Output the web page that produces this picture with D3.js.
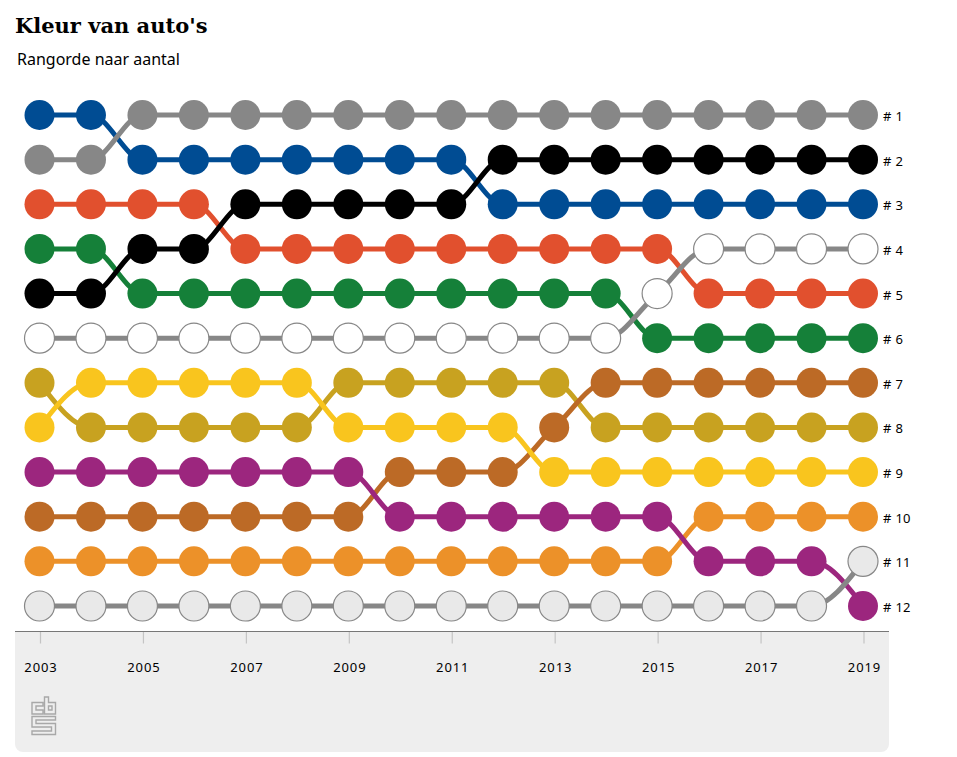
<!DOCTYPE html>
<html>
<head>
<meta charset="utf-8">
<script src="https://cdn.jsdelivr.net/npm/d3@7"></script>
<style>
  body { margin: 0; background: #fff; }
  text { fill: #000; }
</style>
</head>
<body>
<div id="chart"></div>
<script>
// Data: rank per year, one list per colour
const years = d3.range(2003, 2020);
const tickYears = [2003, 2005, 2007, 2009, 2011, 2013, 2015, 2017, 2019];
const ranks = d3.range(1, 13);

const blauw      = [1, 1, 2, 2, 2, 2, 2, 2, 2, 3, 3, 3, 3, 3, 3, 3, 3];
const groen      = [4, 4, 5, 5, 5, 5, 5, 5, 5, 5, 5, 5, 6, 6, 6, 6, 6];
const rood       = [3, 3, 3, 3, 4, 4, 4, 4, 4, 4, 4, 4, 4, 5, 5, 5, 5];
const okergeel   = [7, 8, 8, 8, 8, 8, 7, 7, 7, 7, 7, 8, 8, 8, 8, 8, 8];
const bruin      = [10, 10, 10, 10, 10, 10, 10, 9, 9, 9, 8, 7, 7, 7, 7, 7, 7];
const oranje     = [11, 11, 11, 11, 11, 11, 11, 11, 11, 11, 11, 11, 11, 10, 10, 10, 10];
const paars      = [9, 9, 9, 9, 9, 9, 9, 10, 10, 10, 10, 10, 10, 11, 11, 11, 12];
const lichtgrijs = [12, 12, 12, 12, 12, 12, 12, 12, 12, 12, 12, 12, 12, 12, 12, 12, 11];
const geel       = [8, 7, 7, 7, 7, 7, 8, 8, 8, 8, 9, 9, 9, 9, 9, 9, 9];
const wit        = [6, 6, 6, 6, 6, 6, 6, 6, 6, 6, 6, 6, 5, 4, 4, 4, 4];
const zwart      = [5, 5, 4, 4, 3, 3, 3, 3, 3, 2, 2, 2, 2, 2, 2, 2, 2];
const grijs      = [2, 2, 1, 1, 1, 1, 1, 1, 1, 1, 1, 1, 1, 1, 1, 1, 1];

// Order matters: later lines cross over earlier ones
const colourNames = ['blauw', 'groen', 'rood', 'okergeel', 'bruin', 'oranje', 'paars', 'lichtgrijs', 'geel', 'wit', 'zwart', 'grijs'];
const seriesValues = [blauw, groen, rood, okergeel, bruin, oranje, paars, lichtgrijs, geel, wit, zwart, grijs];

// Fill of the dots, and colour of the connecting lines
const fillColours = ['#004c93', '#158039', '#e1502e', '#c8a220', '#bc6a26', '#ec9129', '#9c267e', '#e9e9e9', '#f9c51e', '#ffffff', '#000000', '#878787'];
const lineColours = ['#004c93', '#158039', '#e1502e', '#c8a220', '#bc6a26', '#ec9129', '#9c267e', '#878787', '#f9c51e', '#878787', '#000000', '#878787'];

const width = 957, height = 757;

const svg = d3.select('#chart')
    .append('svg')
    .attr('width', width)
    .attr('height', height)
    .style('display', 'block');

// Scales
const xScale = d3.scaleLinear().domain([2003, 2019]).range([39.5, 863]);
const yScale = d3.scaleLinear().domain([1, 12]).range([115, 606]);

// Title and subtitle
svg.append('text')
    .attr('x', 15).attr('y', 33)
    .attr('font-family', 'DejaVu Serif')
    .attr('font-weight', 'bold')
    .attr('font-size', 21)
    .text("Kleur van auto's");
svg.append('text')
    .attr('x', 17).attr('y', 65)
    .attr('font-family', 'Noto Sans')
    .attr('font-size', 16)
    .text('Rangorde naar aantal');

// Grey panel below the axis, rounded at the bottom only
svg.append('path')
    .attr('fill', '#eeeeee')
    .attr('d', 'M15,632H889V744a8,8 0 0 1 -8,8H23a8,8 0 0 1 -8,-8Z');

// X axis
const xAxis = svg.append('g')
    .attr('transform', 'translate(0, 631.5)')
    .call(d3.axisBottom(xScale)
        .tickValues(tickYears)
        .tickFormat(d3.format('d'))
        .tickSize(12)
        .tickPadding(19));
xAxis.select('.domain').remove();
xAxis.selectAll('line').attr('stroke', '#c4c4c4').attr('stroke-width', 1.2).attr('x1', 0.5).attr('x2', 0.5);
xAxis.selectAll('text')
    .attr('font-family', 'Noto Sans')
    .attr('font-size', 13)
    .attr('letter-spacing', 0.9)
    .attr('dx', 1)
    .attr('fill', '#000');
svg.append('line')
    .attr('x1', 15).attr('x2', 889)
    .attr('y1', 631.5).attr('y2', 631.5)
    .attr('stroke', '#777777')
    .attr('stroke-width', 1.2);

// Rank labels at the right
svg.selectAll('.rank-label')
    .data(ranks)
    .join('text')
    .attr('class', 'rank-label')
    .attr('x', 883)
    .attr('y', d => yScale(d) + 6)
    .attr('font-family', 'Noto Sans')
    .attr('font-size', 13)
    .attr('letter-spacing', 0.3)
    .text(d => `# ${d}`);

// One line per colour
const line = d3.line()
    .x((d, i) => xScale(years[i]))
    .y(d => yScale(d))
    .curve(d3.curveMonotoneX);

svg.selectAll('.rank-line')
    .data(seriesValues)
    .join('path')
    .attr('class', 'rank-line')
    .attr('fill', 'none')
    .attr('stroke', (d, i) => lineColours[i])
    .attr('stroke-width', 5)
    .attr('d', line);

// Dots on top of the lines
seriesValues.forEach((values, s) => {
    svg.selectAll(`.dot-${colourNames[s]}`)
        .data(values)
        .join('circle')
        .attr('class', `dot-${colourNames[s]}`)
        .attr('cx', (d, i) => xScale(years[i]))
        .attr('cy', d => yScale(d))
        .attr('r', 15)
        .attr('fill', fillColours[s])
        .attr('stroke', lineColours[s] === fillColours[s] ? 'none' : '#878787')
        .attr('stroke-width', 1.2);
});

// CBS logo, outline only: c, b and s
svg.append('path')
    .attr('fill', 'none')
    .attr('stroke', '#a8a8a8')
    .attr('stroke-width', 1.4)
    .attr('d', 'M32,702.5H43V706H36V710H43V714H32Z'
        + 'M44.5,697H48.5V702.5H55.5V714H44.5Z'
        + 'M48.5,706H52V710H48.5Z'
        + 'M32,716.5H55.5V720H36V723.5H55.5V734.5H32V731H51.5V727H32Z');
</script>
</body>
</html>
